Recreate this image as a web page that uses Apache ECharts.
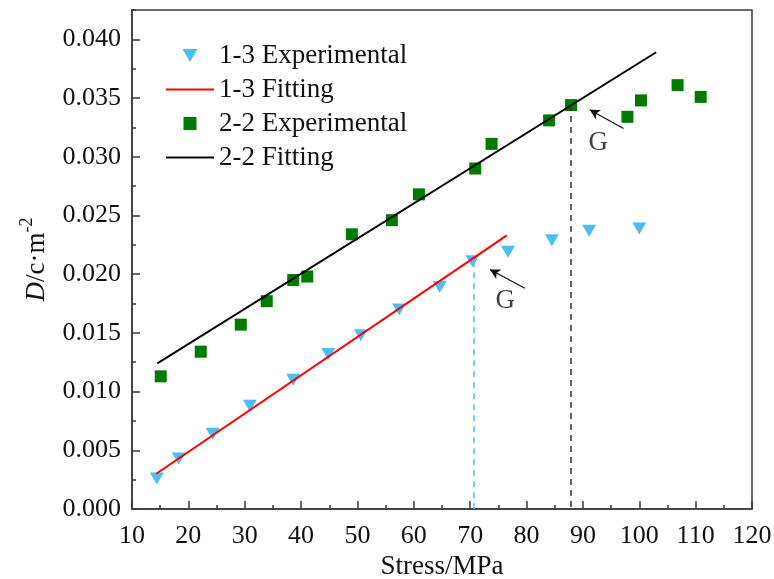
<!DOCTYPE html>
<html>
<head>
<meta charset="utf-8">
<script src="https://cdn.jsdelivr.net/npm/echarts@6/dist/echarts.min.js"></script>
<style>
  html, body { margin: 0; padding: 0; background: #ffffff; }
  #chart { width: 774px; height: 579px; }
</style>
</head>
<body>
<div id="chart"></div>
<script>
// Specimen 1-3: stress (MPa) vs. D (c·m^-2)
const stress13 = [14.4, 18.3, 24.3, 30.9, 38.6, 44.8, 50.6, 57.4, 64.6, 70.4, 76.7, 84.5, 91.1, 100.0];
const dens13   = [0.0026, 0.0043, 0.0064, 0.0088, 0.0110, 0.0132, 0.0148, 0.0170, 0.0189, 0.0211, 0.0219, 0.0229, 0.0237, 0.0239];

// Specimen 2-2
const stress22 = [15.1, 22.2, 29.3, 33.9, 38.6, 41.1, 49.0, 56.1, 60.9, 70.9, 73.8, 84.0, 87.9, 97.9, 100.3, 106.8, 110.9];
const dens22   = [0.0113, 0.0134, 0.0157, 0.0177, 0.0195, 0.0198, 0.0234, 0.0246, 0.0268, 0.0290, 0.0311, 0.0331, 0.0344, 0.0334, 0.0348, 0.0361, 0.0351];

// Linear fits (end points)
const fit13 = [[14.3, 0.0030], [76.5, 0.0233]];
const fit22 = [[14.5, 0.0124], [103.0, 0.0389]];

// Yield point G of each specimen (index into the experimental arrays)
const yieldIdx13 = 9;
const yieldIdx22 = 12;

// "G" label positions and arrows [tail, head]
const gLabels = [[92.7, 0.0312], [76.2, 0.0177]];
const gArrows = [
  [[97.2, 0.0324], [91.2, 0.0340]],
  [[79.7, 0.0188], [73.5, 0.0204]]
];

// Axis ranges and tick spacing
const xRange = [10, 120];
const xStep = 10;
const yRange = [0, 0.0425];
const yStep = 0.005;
const yMinorStep = 0.0025;

const FONT = "'Liberation Serif', 'Times New Roman', serif";
const BLUE = '#4DBDF5';
const GREEN = '#007A00';
const AXIS = '#3a3a3a';

const zip = (xs, ys) => xs.map((x, i) => [x, ys[i]]);

const chart = echarts.init(document.getElementById('chart'), null, { renderer: 'canvas' });

const guideLine = (pt, color) => ({
  silent: true,
  symbol: 'none',
  label: { show: false },
  lineStyle: { type: [6, 5], color: color, width: 1.5 },
  data: [[{ coord: [pt[0], pt[1]] }, { coord: [pt[0], 0] }]]
});

const option = {
  backgroundColor: '#ffffff',
  animation: false,
  grid: {
    left: 132, right: 22, top: 10, bottom: 70,
    outerBoundsMode: 'none',
    containLabel: false,
    show: true, borderColor: AXIS, borderWidth: 1.5, backgroundColor: 'transparent'
  },
  legend: {
    orient: 'vertical',
    left: 160,
    top: 37,
    itemWidth: 48,
    itemHeight: 13,
    itemGap: 7,
    itemTextGap: 12,
    textStyle: { fontFamily: FONT, fontSize: 27, color: '#111', lineHeight: 27 },
    data: [
      { name: '1-3 Experimental', icon: 'path://M0,0 L14,0 L7,12 Z' },
      { name: '1-3 Fitting', itemStyle: { opacity: 0 } },
      { name: '2-2 Experimental', icon: 'path://M0,0 L11,0 L11,11 L0,11 Z' },
      { name: '2-2 Fitting', itemStyle: { opacity: 0 } }
    ]
  },
  xAxis: {
    type: 'value',
    min: xRange[0], max: xRange[1], interval: xStep,
    name: 'Stress/MPa',
    nameLocation: 'middle',
    nameGap: 43,
    nameTextStyle: { fontFamily: FONT, fontSize: 27, color: '#111' },
    axisLine: { show: true, lineStyle: { color: AXIS, width: 1.5 } },
    axisTick: { show: true, inside: true, length: 8, lineStyle: { color: AXIS, width: 1.5 } },
    minorTick: { show: true, splitNumber: 2, length: 4, lineStyle: { color: AXIS, width: 1.5 } },
    axisLabel: { fontFamily: FONT, fontSize: 26, color: '#111', margin: 14 },
    splitLine: { show: false }
  },
  yAxis: [
    {
      type: 'value',
      position: 'left',
      min: yRange[0], max: yRange[1], interval: yStep,
      name: '{i|D}{n|/c·m}{s|-2}',
      nameLocation: 'middle',
      nameGap: 82,
      nameTextStyle: {
        rich: {
          i: { fontFamily: FONT, fontSize: 27, fontStyle: 'italic', color: '#111', lineHeight: 32, verticalAlign: 'bottom' },
          n: { fontFamily: FONT, fontSize: 27, color: '#111', lineHeight: 32, verticalAlign: 'bottom' },
          s: { fontFamily: FONT, fontSize: 18, color: '#111', lineHeight: 16, verticalAlign: 'top' }
        }
      },
      axisLine: { show: true, lineStyle: { color: AXIS, width: 1.5 } },
      axisTick: { show: true, inside: true, length: 8, lineStyle: { color: AXIS, width: 1.5 } },
      axisLabel: {
        fontFamily: FONT, fontSize: 26, color: '#111', margin: 11,
        showMaxLabel: false,
        formatter: v => (v > 0.0401 ? '' : v.toFixed(3))
      },
      splitLine: { show: false }
    },
    {
      // short ticks halfway between the labelled ones
      type: 'value',
      position: 'left',
      min: yRange[0], max: yRange[1], interval: yMinorStep,
      axisLine: { show: false },
      axisTick: { show: true, inside: true, length: 4, lineStyle: { color: AXIS, width: 1.5 } },
      axisLabel: { show: false },
      splitLine: { show: false }
    }
  ],
  series: [
    {
      name: '1-3 Experimental',
      type: 'scatter',
      symbol: 'triangle',
      symbolRotate: 180,
      symbolSize: [14, 12],
      symbolKeepAspect: true,
      itemStyle: { color: BLUE, opacity: 1 },
      data: zip(stress13, dens13),
      markLine: guideLine([stress13[yieldIdx13] + 0.3, dens13[yieldIdx13]], BLUE)
    },
    {
      name: '1-3 Fitting',
      type: 'line',
      symbol: 'none',
      lineStyle: { color: '#FF0000', width: 2 },
      itemStyle: { color: '#FF0000' },
      data: fit13
    },
    {
      name: '2-2 Experimental',
      type: 'scatter',
      symbol: 'rect',
      symbolSize: 12,
      symbolKeepAspect: true,
      itemStyle: { color: GREEN, opacity: 1 },
      data: zip(stress22, dens22),
      markLine: guideLine([stress22[yieldIdx22], dens22[yieldIdx22]], '#333333')
    },
    {
      name: '2-2 Fitting',
      type: 'line',
      symbol: 'none',
      lineStyle: { color: '#000000', width: 2 },
      itemStyle: { color: '#000000' },
      data: fit22
    },
    {
      // yield point annotations
      name: 'G',
      type: 'scatter',
      symbolSize: 0,
      silent: true,
      data: gLabels,
      label: {
        show: true, position: 'inside', formatter: 'G',
        fontFamily: FONT, fontSize: 27, color: '#111'
      },
      markLine: {
        silent: true,
        symbol: ['none', 'arrow'],
        symbolSize: [8, 10],
        label: { show: false },
        lineStyle: { type: 'solid', color: '#111', width: 1.2 },
        data: gArrows.map(a => [{ coord: a[0] }, { coord: a[1] }])
      }
    }
  ]
};

chart.setOption(option);
</script>
</body>
</html>
